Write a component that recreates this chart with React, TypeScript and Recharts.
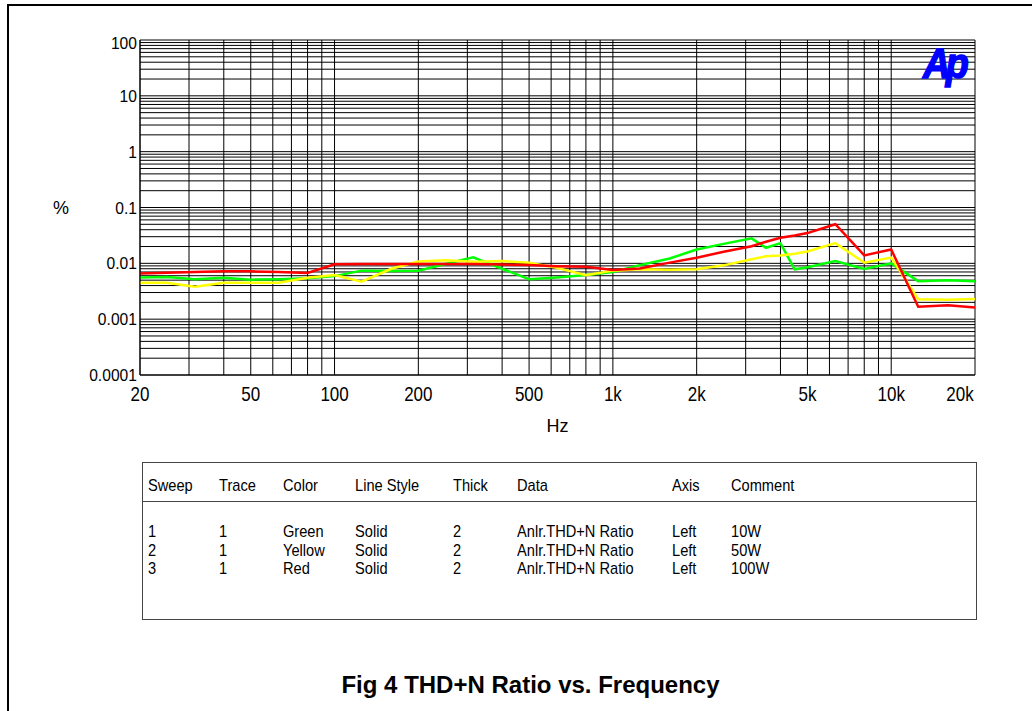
import React from "react";
import { LineChart, Line, XAxis, YAxis, CartesianGrid } from "recharts";

// sweep points (Hz), roughly 1/3 octave
const freqs = [
  20, 25, 31.5, 40, 50, 63, 80, 100, 125, 160, 200, 250, 315, 400, 500, 630,
  800, 1000, 1250, 1600, 2000, 2500, 3150, 3550, 4000, 4500, 5000, 6300, 8000,
  10000, 12500, 16000, 20000,
];

// THD+N (%)
const green10W = [
  0.0056, 0.0057, 0.0052, 0.0055, 0.0051, 0.0052, 0.0054, 0.0059, 0.0074,
  0.0073, 0.0074, 0.0097, 0.0128, 0.008, 0.0052, 0.0056, 0.0062, 0.007,
  0.0093, 0.0122, 0.0177, 0.0223, 0.028, 0.019, 0.023, 0.0078, 0.0085, 0.011,
  0.0079, 0.01, 0.0048, 0.005, 0.0048,
];
const yellow50W = [
  0.0045, 0.0045, 0.0038, 0.0045, 0.0045, 0.0045, 0.0055, 0.0062, 0.0047,
  0.008, 0.0108, 0.0114, 0.0107, 0.011, 0.0102, 0.0083, 0.0061, 0.0074,
  0.0078, 0.0077, 0.0078, 0.0092, 0.0118, 0.0134, 0.0138, 0.0148, 0.0163,
  0.023, 0.0103, 0.0127, 0.00227, 0.00223, 0.0023,
];
const red100W = [
  0.0066, 0.0068, 0.007, 0.0072, 0.0072, 0.007, 0.0067, 0.0096, 0.0097,
  0.0097, 0.0097, 0.0097, 0.0097, 0.0095, 0.0093, 0.0089, 0.0087, 0.0076,
  0.0081, 0.0103, 0.0126, 0.0161, 0.0202, 0.0244, 0.0288, 0.0316, 0.0348,
  0.0501, 0.0139, 0.0177, 0.00167, 0.00178, 0.00162,
];

const xGridTicks = [
  20, 30, 40, 50, 60, 70, 80, 90, 100, 200, 300, 400, 500, 600, 700, 800, 900,
  1000, 2000, 3000, 4000, 5000, 6000, 7000, 8000, 9000, 10000, 20000,
];
const xTickLabels: Record<number, string> = {
  20: "20",
  50: "50",
  100: "100",
  200: "200",
  500: "500",
  1000: "1k",
  2000: "2k",
  5000: "5k",
  10000: "10k",
  20000: "20k",
};
const yDecades = [0.0001, 0.001, 0.01, 0.1, 1, 10, 100];
const yTickLabels = ["0.0001", "0.001", "0.01", "0.1", "1", "10", "100"];
const yGridTicks = yDecades
  .slice(0, -1)
  .flatMap((d) => [1, 2, 3, 4, 5, 6, 7, 8, 9].map((k) => k * d))
  .concat([100]);

const tableHeader = ["Sweep", "Trace", "Color", "Line Style", "Thick", "Data", "Axis", "Comment"];
const tableRows = [
  ["1", "1", "Green", "Solid", "2", "Anlr.THD+N Ratio", "Left", "10W"],
  ["2", "1", "Yellow", "Solid", "2", "Anlr.THD+N Ratio", "Left", "50W"],
  ["3", "1", "Red", "Solid", "2", "Anlr.THD+N Ratio", "Left", "100W"],
];
const tableColX = [5, 76, 140, 212, 310, 374, 529, 588];

const chartData = freqs.map((f, i) => ({
  f,
  green: green10W[i],
  yellow: yellow50W[i],
  red: red100W[i],
}));

const font = "'Liberation Sans', Arial, sans-serif";

const XTick = (props: any) => {
  const { x, y, payload } = props;
  const label = xTickLabels[payload.value];
  if (!label) return <g />;
  const dx = payload.value === 20000 ? -15 : 0;
  return (
    <text
      transform={`translate(${x + dx},${y + 26}) scale(0.85,1)`}
      textAnchor="middle"
      fontSize={20}
      fontFamily={font}
      fill="#000"
    >
      {label}
    </text>
  );
};

const YTick = (props: any) => {
  const { x, y, payload } = props;
  const i = yDecades.indexOf(payload.value);
  if (i < 0) return <g />;
  const yy = payload.value === 100 ? y + 3 : y;
  return (
    <text
      transform={`translate(${x},${yy}) scale(0.92,1)`}
      textAnchor="end"
      dy="0.36em"
      fontSize={17}
      fontFamily={font}
      fill="#000"
    >
      {yTickLabels[i]}
    </text>
  );
};

export default function App() {
  return (
    <div
      style={{
        position: "absolute",
        left: 0,
        top: 0,
        width: 1032,
        height: 711,
        overflow: "hidden",
        background: "#fff",
        fontFamily: font,
      }}
    >
      <div
        style={{
          position: "absolute",
          left: 7,
          top: 4,
          width: 1100,
          height: 800,
          border: "2px solid #000",
        }}
      />

      <div style={{ position: "absolute", left: 0, top: 0 }}>
        <LineChart
          width={1032}
          height={440}
          data={chartData}
          margin={{ top: 40, right: 57, bottom: 0, left: 0 }}
        >
          <CartesianGrid stroke="#000" strokeWidth={1} />
          <XAxis
            dataKey="f"
            type="number"
            scale="log"
            domain={[20, 20000]}
            ticks={xGridTicks}
            interval={0}
            allowDataOverflow
            tick={<XTick />}
            tickLine={false}
            tickSize={0}
            tickMargin={0}
            axisLine={{ stroke: "#000" }}
            height={65}
            label={{ value: "Hz", position: "insideBottom", offset: 8, fontSize: 18, fill: "#000" }}
          />
          <YAxis
            type="number"
            scale="log"
            domain={[0.0001, 100]}
            ticks={yGridTicks}
            interval={0}
            allowDataOverflow
            tick={<YTick />}
            tickLine={false}
            tickSize={0}
            tickMargin={3}
            axisLine={{ stroke: "#000" }}
            width={140}
            label={{ value: "%", position: "insideLeft", offset: 53, fontSize: 18, fill: "#000" }}
          />
          <Line dataKey="green" type="linear" stroke="#00ff00" strokeWidth={2.5} dot={false} isAnimationActive={false} />
          <Line dataKey="yellow" type="linear" stroke="#ffff00" strokeWidth={2.5} dot={false} isAnimationActive={false} />
          <Line dataKey="red" type="linear" stroke="#ff0000" strokeWidth={2.5} dot={false} isAnimationActive={false} />
        </LineChart>
      </div>

      {/* Ap logo */}
      <div
        style={{
          position: "absolute",
          left: 923,
          top: 43,
          fontSize: 42,
          lineHeight: 1,
          fontWeight: "bold",
          fontStyle: "italic",
          color: "#0000ff",
          letterSpacing: -5,
          WebkitTextStroke: "1.5px #0000ff",
          transform: "scale(0.9,1)",
          transformOrigin: "left top",
        }}
      >
        Ap
      </div>

      {/* legend table */}
      <div
        style={{
          position: "absolute",
          left: 142,
          top: 462,
          width: 835,
          height: 158,
          border: "1px solid #444",
          boxSizing: "border-box",
          fontSize: 17,
          color: "#000",
        }}
      >
        <div style={{ position: "absolute", left: 0, right: 0, top: 38, borderTop: "1px solid #444" }} />
        {tableHeader.map((h, c) => (
          <span
            key={h}
            style={{
              position: "absolute",
              left: tableColX[c],
              top: 13,
              whiteSpace: "nowrap",
              transform: "scale(0.86,1)",
              transformOrigin: "left center",
            }}
          >
            {h}
          </span>
        ))}
        {tableRows.map((row, r) =>
          row.map((cell, c) => (
            <span
              key={r + "-" + c}
              style={{
                position: "absolute",
                left: tableColX[c],
                top: 59 + r * 18.5,
                whiteSpace: "nowrap",
                transform: "scale(0.86,1)",
                transformOrigin: "left center",
              }}
            >
              {cell}
            </span>
          ))
        )}
      </div>

      <div
        style={{
          position: "absolute",
          left: 0,
          width: 1061,
          top: 673,
          textAlign: "center",
          fontSize: 24,
          fontWeight: "bold",
          lineHeight: 1,
        }}
      >
        Fig 4 THD+N Ratio vs. Frequency
      </div>
    </div>
  );
}
